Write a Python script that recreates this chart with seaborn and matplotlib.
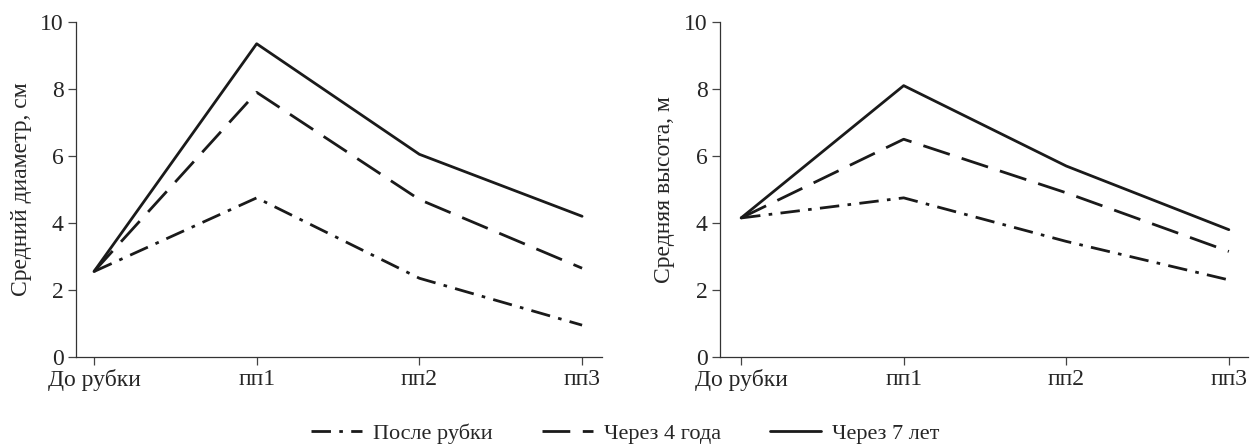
import pandas as pd
import matplotlib
matplotlib.use("Agg")
import matplotlib.pyplot as plt
import seaborn as sns

# data
sites = ["До рубки", "пп1", "пп2", "пп3"]
series = ["После рубки", "Через 4 года", "Через 7 лет"]

diam_after = [2.55, 4.75, 2.35, 0.95]
diam_4y = [2.55, 7.9, 4.7, 2.65]
diam_7y = [2.55, 9.35, 6.05, 4.2]

height_after = [4.15, 4.75, 3.45, 2.3]
height_4y = [4.15, 6.5, 4.9, 3.15]
height_7y = [4.15, 8.1, 5.7, 3.8]

def to_long(vals_list):
    rows = []
    for name, vals in zip(series, vals_list):
        for i, v in enumerate(vals):
            rows.append({"pos": i, "site": sites[i], "series": name, "value": v})
    return pd.DataFrame(rows)

df_d = to_long([diam_after, diam_4y, diam_7y])
df_h = to_long([height_after, height_4y, height_7y])

sns.set_style("ticks")
plt.rcParams["font.family"] = ["Liberation Serif", "DejaVu Serif"]

dashes = {"После рубки": (7, 3, 1.3, 3), "Через 4 года": (10, 4.5), "Через 7 лет": ""}

fig = plt.figure(figsize=(12.51, 4.44), dpi=100)
ax1 = fig.add_axes([0.0608, 0.196, 0.4205, 0.7545])
ax2 = fig.add_axes([0.5755, 0.196, 0.422, 0.7545])

for ax, df, ylab, xl in [(ax1, df_d, "Средний диаметр, см", (-0.11, 3.123)),
                         (ax2, df_h, "Средняя высота, м", (-0.13, 3.117))]:
    sns.lineplot(data=df, x="pos", y="value", style="series", dashes=dashes,
                 color="#1a1a1a", linewidth=2.0, ax=ax, legend=(ax is ax1))
    ax.set_xlim(*xl)
    ax.set_ylim(0, 10)
    ax.set_xticks(range(len(sites)))
    ax.set_xticklabels(sites)
    ax.set_yticks([0, 2, 4, 6, 8, 10])
    ax.set_xlabel("")
    ax.set_ylabel(ylab, fontsize=17, labelpad=6)
    ax.tick_params(labelsize=17, length=6, width=0.9, color="#444444", pad=3)
    for s in ["top", "right"]:
        ax.spines[s].set_visible(False)
    for s in ["left", "bottom"]:
        ax.spines[s].set_linewidth(0.9)
        ax.spines[s].set_color("#333333")

handles, labels = ax1.get_legend_handles_labels()
ax1.get_legend().remove()
fig.legend(handles, labels, loc="lower center", ncol=3, frameon=False,
           fontsize=16, bbox_to_anchor=(0.5, -0.045), handlelength=2.3,
           columnspacing=2.2, handletextpad=0.5)

fig.savefig("out.png", dpi=100)
